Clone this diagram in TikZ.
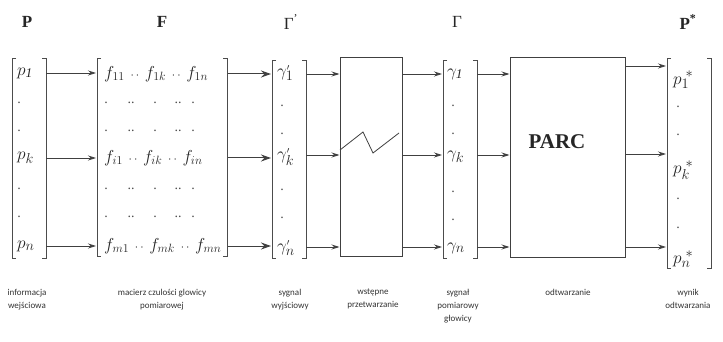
\documentclass[tikz,border=0pt]{standalone}
\usepackage{fontspec}
\setmainfont{Liberation Serif}
\newfontfamily\capfont{Carlito}
\usetikzlibrary{arrows.meta}

% small double dot between matrix entries
\newcommand\dd{\mathinner{\,{\scriptstyle\cdot\,\cdot}\,}}
% small prime
\newcommand\pr{{\scriptscriptstyle\prime}}

\tikzset{
  ink/.style={draw=black!75, line width=0.8pt},
  bracket/.style={draw=black!70, line width=0.7pt},
  holder/.style={draw=none, inner sep=0pt, outer sep=0pt},
  blockbox/.style={ink, line width=1pt, inner sep=0pt},
  entry/.style={inner sep=0pt, anchor=west, text=black!85, font=\fontsize{19}{21}\selectfont},
  fentry/.style={inner sep=0pt, anchor=west, text=black!85, font=\fontsize{17}{19}\selectfont},
  vdot/.style={inner sep=0pt, text=black!70, font=\fontsize{14}{16}\selectfont},
  head/.style={inner sep=0pt, text=black!85, font=\fontsize{17}{19}\selectfont\bfseries},
  caption/.style={inner sep=0pt, anchor=north, align=center, text=black!80,
    font=\capfont\fontsize{9}{13}\selectfont},
  arrs/.style={ink, -{Stealth[length=8pt,width=5pt]}},
  arrb/.style={ink, line width=1pt, -{Stealth[length=10pt,width=7pt]}},
}

\newcommand\brackets[1]{%
  \draw[bracket] ([xshift=4pt]#1.north west) -- (#1.north west) -- (#1.south west) -- ([xshift=4pt]#1.south west);
  \draw[bracket] ([xshift=-4pt]#1.north east) -- (#1.north east) -- (#1.south east) -- ([xshift=-4pt]#1.south east);}

\begin{document}
\begin{tikzpicture}[x=1pt,y=-1pt]
\useasboundingbox (0,0) rectangle (723,342);
\fill[white] (0,0) rectangle (723,342);

% ---- headers
\node[head] (hP) at (27,22) {P};
\node[head] (hF) at (162,22) {F};
\node[head, font=\fontsize{17}{19}\selectfont] (hG1) at (291,22) {Γ\textsuperscript{'}};
\node[head, font=\fontsize{17}{19}\selectfont] (hG) at (457,22) {Γ};
\node[head] (hPs) at (688,22) {P\textsuperscript{*}};

% ---- frames of vectors and matrix
\node[holder, minimum width=34pt, minimum height=200pt] (P)  at (29,158) {};
\node[holder, minimum width=130pt, minimum height=198pt] (F) at (162,157) {};
\node[holder, minimum width=34pt, minimum height=198pt] (G1) at (289,159) {};
\node[holder, minimum width=34pt, minimum height=198pt] (G)  at (460,159) {};
\node[holder, minimum width=44pt, minimum height=210pt] (Ps) at (689,163) {};
\brackets{P}
\brackets{F}
\brackets{G1}
\brackets{G}
\brackets{Ps}

% ---- blocks
\node[blockbox, minimum width=62pt, minimum height=198pt] (pre) at (371,157) {};
\node[blockbox, minimum width=115pt, minimum height=199pt] (parc) at (567.5,157.5) {};
\node[inner sep=0pt, text=black!85, font=\fontsize{21}{23}\selectfont\bfseries] (parct) at (557,142) {PARC};
\draw[ink] (340,150) -- (363,132) -- (373,153) -- (399,133);

% ---- input vector P
\node[entry] (p1) at (17,73) {$p_{\mathit{1}}$};
\node[entry] (pk) at (17,158) {$p_k$};
\node[entry] (pn) at (17,246) {$p_n$};
\foreach \y [count=\i] in {103,131,189,217} \node[vdot] (pd\i) at (19,\y) {.};

% ---- matrix F
\node[fentry] (f1) at (104,74) {$f_{11}\dd f_{1k}\dd f_{1n}$};
\node[fentry] (fi) at (104,158) {$f_{i1}\dd f_{ik}\dd f_{in}$};
\node[fentry] (fm) at (104,246) {$f_{m1}\dd f_{mk}\dd f_{mn}$};
\foreach \y [count=\j] in {103,131,189,217}{
  \node[vdot] (fa\j) at (106,\y) {.};
  \node[vdot] (fb\j) at (131,\y) {..};
  \node[vdot] (fc\j) at (155,\y) {.};
  \node[vdot] (fd\j) at (178,\y) {..};
  \node[vdot] (fe\j) at (193,\y) {.};
}

% ---- vector Γ'
\node[entry] (g11) at (277,73) {$\gamma^{\pr}_{1}$};
\node[entry] (g1k) at (277,157) {$\gamma^{\pr}_{k}$};
\node[entry] (g1n) at (277,248) {$\gamma^{\pr}_{n}$};
\foreach \y [count=\i] in {106,134,190,218} \node[vdot] (g1d\i) at (282,\y) {.};

% ---- vector Γ
\node[entry] (g1) at (447,74) {$\gamma_{\mathit{1}}$};
\node[entry] (gk) at (447,157) {$\gamma_k$};
\node[entry] (gn) at (447,248) {$\gamma_n$};
\foreach \y [count=\i] in {106,134,192,220} \node[vdot] (gd\i) at (453,\y) {.};

% ---- output vector P*
\node[entry] (ps1) at (673,80) {$p_1^{\;*}$};
\node[entry] (psk) at (673,170) {$p_k^{\;*}$};
\node[entry] (psn) at (673,259) {$p_n^{\;*}$};
\foreach \y [count=\i] in {107,135,199,228} \node[vdot] (psd\i) at (678,\y) {.};

% ---- connectors
\coordinate (r1) at (0,73);  \coordinate (rk) at (0,158); \coordinate (rn) at (0,246);
\foreach \r in {r1,rk,rn} \draw[arrs] (P.east |- \r) -- ([xshift=-1pt]F.west |- \r);
\coordinate (s1) at (0,74);  \coordinate (sk) at (0,158); \coordinate (sn) at (0,246);
\foreach \r in {s1,sk,sn} \draw[arrb] ([xshift=1pt]F.east |- \r) -- ([xshift=-1pt]G1.west |- \r);
\coordinate (t1) at (0,74);  \coordinate (tk) at (0,155); \coordinate (tn) at (0,247);
\foreach \r in {t1,tk,tn} \draw[arrs] (G1.east |- \r) -- (pre.west |- \r);
\foreach \r in {t1,tk,tn} \draw[arrs] (pre.east |- \r) -- ([xshift=-1pt]G.west |- \r);
\foreach \r in {t1,tk,tn} \draw[arrs] (G.east |- \r) -- (parc.west |- \r);
\coordinate (u1) at (0,66);  \coordinate (uk) at (0,154); \coordinate (un) at (0,247);
\foreach \r in {u1,uk,un} \draw[arrs] (parc.east |- \r) -- ([xshift=-1pt]Ps.west |- \r);

% ---- captions
\node[caption] (c1) at (27,289) {informacja\\wejściowa};
\node[caption] (c2) at (162,289) {macierz czulości glowicy\\pomiarowej};
\node[caption] (c3) at (290,289) {sygnal\\wyjściowy};
\node[caption] (c4) at (373,289) {wstępne\\przetwarzanie};
\node[caption] (c5) at (458,289) {sygnał\\pomiarowy\\głowicy};
\node[caption] (c6) at (568,289) {odtwarzanie};
\node[caption] (c7) at (688,289) {wynik\\odtwarzania};
\end{tikzpicture}
\end{document}
